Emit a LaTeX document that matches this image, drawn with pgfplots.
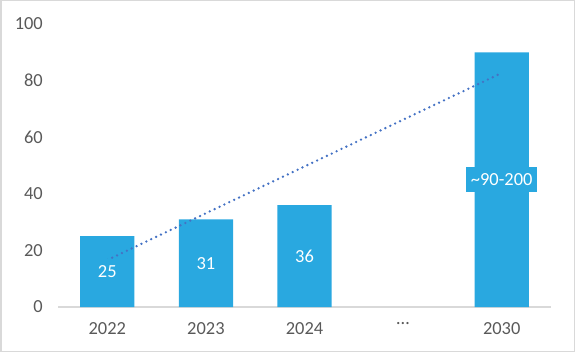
\documentclass[border=0pt]{standalone}
\usepackage{fontspec}
\setmainfont{Carlito}
\usepackage{pgfplots}
\pgfplotsset{compat=1.18}
\definecolor{barc}{HTML}{29A8E0}
\definecolor{trend}{HTML}{4472C4}
\definecolor{tickc}{HTML}{595959}
\definecolor{bord}{HTML}{D9D9D9}
\begin{document}
\fontsize{18.5}{22}\selectfont
\begin{tikzpicture}
\useasboundingbox (0,0) rectangle (575bp,352bp);
\draw[bord, line width=1.5bp] (0.75bp,0.75bp) rectangle (574.25bp,351.25bp);
\begin{axis}[at={(58bp,45bp)}, anchor=south west, scale only axis,
 width=493bp, height=283bp,
 xmin=-0.5, xmax=4.5, ymin=0, ymax=100,
 axis x line*=bottom, axis y line*=left,
 x axis line style={draw=bord, line width=1.5bp, -},
 y axis line style={draw=none},
 major tick length=0pt,
 xtick={0,1,2,3,4}, xticklabels={2022,2023,2024,{\ldots},2030},
 ytick={0,20,40,60,80,100},
 ticklabel style={font=\fontsize{18.5}{22}\selectfont, text=tickc, inner sep=0pt},
 xticklabel style={anchor=north, yshift=-15bp},
 yticklabel style={anchor=east, xshift=-15bp},
 /pgf/number format/assume math mode=true,
 clip=false,
]
\addplot[ybar, bar width=0.55, fill=barc, draw=none] coordinates {(0,25) (1,31) (2,36) (4,90)};
\addplot[draw=none, mark=none, nodes near coords, point meta=explicit symbolic,
  every node near coord/.style={anchor=center, fill=barc, text=white, inner xsep=5bp, inner ysep=6.5bp, font=\fontsize{18.5}{22}\selectfont}]
  coordinates {(0,12.5) [25] (1,15.5) [31] (2,18) [36] (4,45) [\textasciitilde90-200]};
\addplot[trend, line width=2.6bp, line cap=round, dash pattern=on 0pt off 5.4bp] coordinates {(0,16.6) (4,82.7)};
\end{axis}
\end{tikzpicture}
\end{document}
